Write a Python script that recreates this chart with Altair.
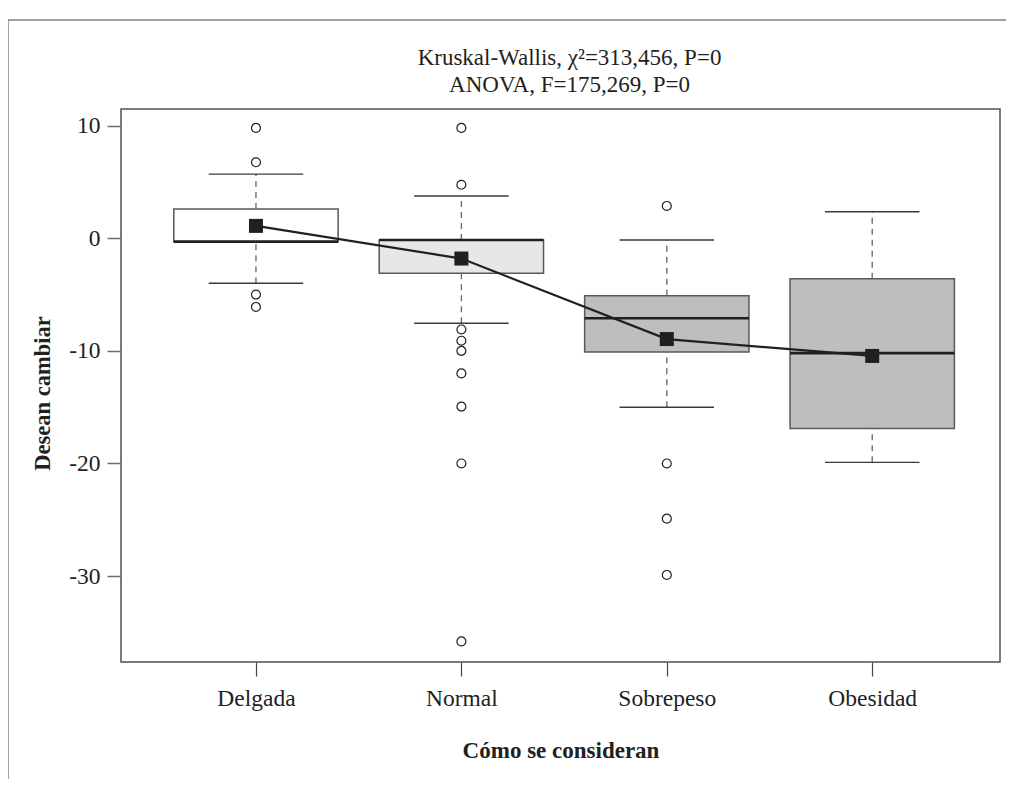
import altair as alt
import pandas as pd

# ---- data ----
cats = ["Delgada", "Normal", "Sobrepeso", "Obesidad"]
idx = [1, 2, 3, 4]
q1 = [-0.3, -3.1, -10.1, -16.9]
q3 = [2.6, -0.15, -5.1, -3.6]
median = [-0.3, -0.15, -7.1, -10.2]
whisk_lo = [-4.0, -7.55, -15.0, -19.9]
whisk_hi = [5.7, 3.75, -0.15, 2.36]
means = [1.1, -1.8, -8.95, -10.45]
box_fill = ["#ffffff", "#e6e7e8", "#bcbec0", "#bcbec0"]

out_delgada = [9.8, 6.75, -5.0, -6.1]
out_normal = [9.8, 4.75, -8.1, -9.1, -10.0, -12.0, -14.95, -20.0, -35.8]
out_sobrepeso = [2.87, -20.0, -24.9, -29.9]
out_obesidad = []

y_ticks = [-30, -20, -10, 0, 10]
title_lines = ["Kruskal-Wallis, \u03c7\u00b2=313,456, P=0", "ANOVA, F=175,269, P=0"]
x_title = "Cómo se consideran"
y_title = "Desean cambiar"

FONT = "Liberation Serif"
BOX_HALF = 0.40
CAP_HALF = 0.23

df = pd.DataFrame({
    "cat": cats, "idx": idx, "q1": q1, "q3": q3, "med": median,
    "lo": whisk_lo, "hi": whisk_hi, "mean": means, "fill": box_fill,
})
df["bx0"] = df["idx"] - BOX_HALF
df["bx1"] = df["idx"] + BOX_HALF
df["cx0"] = df["idx"] - CAP_HALF
df["cx1"] = df["idx"] + CAP_HALF

rows = []
for i, vals in zip(idx, [out_delgada, out_normal, out_sobrepeso, out_obesidad]):
    for v in vals:
        rows.append({"idx": i, "val": v})
outl = pd.DataFrame(rows)

xscale = alt.Scale(domain=[0.343, 4.622], nice=False, zero=False)
yscale = alt.Scale(domain=[-37.63, 11.48], nice=False, zero=False)

label_array = "[''," + ",".join("'" + c + "'" for c in cats) + "]"
xaxis = alt.Axis(
    values=idx, labelExpr=label_array + "[datum.value]", title=x_title,
    grid=False, domain=False, tickSize=14, tickColor="#444", tickWidth=1.2,
    labelPadding=10, labelFont=FONT, labelFontSize=23.5, labelColor="#231f20",
    titleFont=FONT, titleFontSize=23, titleFontWeight="bold", titleColor="#231f20",
    titleY=95, titleBaseline="alphabetic",
)
yaxis = alt.Axis(
    values=y_ticks, labelExpr="'' + datum.value", title=y_title,
    grid=False, domain=False, tickSize=14, tickColor="#6d6e71", tickWidth=1.5,
    labelPadding=7, labelFont=FONT, labelFontSize=23.5, labelColor="#231f20",
    titleFont=FONT, titleFontSize=22.5, titleFontWeight="bold", titleColor="#231f20",
    titleX=-72, titleY=284, titleBaseline="alphabetic",
)

boxes = alt.Chart(df).mark_rect(stroke="#58595b", strokeWidth=1.5).encode(
    x=alt.X("bx0:Q", scale=xscale, axis=xaxis),
    x2="bx1",
    y=alt.Y("q1:Q", scale=yscale, axis=yaxis),
    y2="q3",
    fill=alt.Fill("fill:N", scale=None),
)
whisk_up = alt.Chart(df).mark_rule(color="#6d6e71", strokeWidth=1.4, strokeDash=[6, 5]).encode(
    x="idx:Q", y="q3:Q", y2="hi"
)
whisk_dn = alt.Chart(df).mark_rule(color="#6d6e71", strokeWidth=1.4, strokeDash=[6, 5]).encode(
    x="idx:Q", y="lo:Q", y2="q1"
)
cap_up = alt.Chart(df).mark_rule(color="#3a3a3a", strokeWidth=1.4).encode(
    x="cx0:Q", x2="cx1", y="hi:Q"
)
cap_dn = alt.Chart(df).mark_rule(color="#3a3a3a", strokeWidth=1.4).encode(
    x="cx0:Q", x2="cx1", y="lo:Q"
)
med = alt.Chart(df).mark_rule(color="#231f20", strokeWidth=2.6).encode(
    x="bx0:Q", x2="bx1", y="med:Q"
)
pts = alt.Chart(outl).mark_point(
    shape="circle", filled=False, size=80, stroke="#231f20", strokeWidth=1.2, opacity=1
).encode(x="idx:Q", y="val:Q")
mline = alt.Chart(df).mark_line(color="#231f20", strokeWidth=2.2).encode(
    x="idx:Q", y="mean:Q"
)
msq = alt.Chart(df).mark_square(size=196, color="#231f20", opacity=1).encode(
    x="idx:Q", y="mean:Q"
)

one = pd.DataFrame({"k": [0]})
frame_left = alt.Chart(one).mark_rule(color="#808285", strokeWidth=1.5).encode(
    x=alt.value(-113), y=alt.value(-89), y2=alt.value(700)
)
frame_top = alt.Chart(one).mark_rule(color="#808285", strokeWidth=1.5).encode(
    x=alt.value(-113), x2=alt.value(900), y=alt.value(-89)
)

chart = alt.layer(
    boxes, whisk_up, whisk_dn, cap_up, cap_dn, med, pts, mline, msq, frame_left, frame_top
).properties(
    width=879,
    height=553,
    title=alt.TitleParams(
        text=title_lines, font=FONT, fontSize=23, fontWeight="normal",
        color="#231f20", anchor="middle", offset=12, lineHeight=27, dy=90, dx=9,
    ),
    autosize=alt.AutoSizeParams(type="none"),
    padding={"left": 113, "top": 101, "right": 6, "bottom": 117},
).configure(
    background="white"
).configure_view(
    stroke="#505053", strokeWidth=1.5
)

chart.save("out.html", embed_options={"renderer": "svg", "actions": False})
